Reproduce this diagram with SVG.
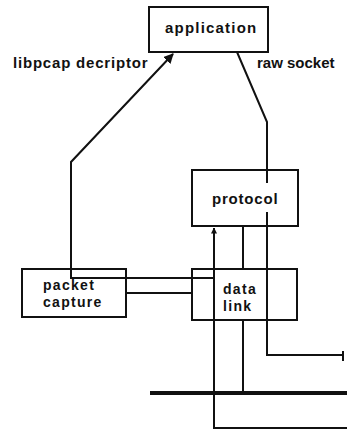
<svg xmlns="http://www.w3.org/2000/svg" width="347" height="430" viewBox="0 0 347 430">
<style>
.box{fill:#fff;stroke:#111;stroke-width:2}
.t{font-family:"Liberation Sans",Arial,sans-serif;font-weight:bold;font-size:15px;fill:#111}
.s{font-size:14px;letter-spacing:1.3px}
.c{fill:none;stroke:#111;stroke-width:2}
</style>
<defs>
<marker id="ah" viewBox="0 0 10 10" refX="9" refY="5" markerWidth="5" markerHeight="5" orient="auto" markerUnits="strokeWidth">
<path d="M0,0 L10,5 L0,10 z" fill="#111"/>
</marker>
<marker id="ahf" viewBox="0 0 12 6" refX="11" refY="3" markerWidth="6" markerHeight="6" orient="auto" markerUnits="userSpaceOnUse">
<path d="M0,-3 L12,3 L0,9 z" fill="#111"/>
</marker>
</defs>
<rect width="347" height="430" fill="#fff"/>
<g id="application">
<rect class="box" x="149" y="7" width="119" height="45"/>
<text class="t" x="165" y="33" style="letter-spacing:1.2px">application</text>
</g>
<g id="protocol">
<rect class="box" x="192" y="170" width="106" height="56"/>
<text class="t" x="212" y="204" style="letter-spacing:0.8px">protocol</text>
</g>
<g id="packet-capture">
<rect class="box" x="22" y="269" width="104" height="48"/>
<text class="t s" x="43" y="290">packet</text>
<text class="t s" x="43" y="307">capture</text>
</g>
<g id="data-link">
<rect class="box" x="192" y="269" width="105" height="51"/>
<text class="t s" x="223" y="294">data</text>
<text class="t s" x="223" y="311">link</text>
</g>
<g id="labels">
<text class="t" x="13" y="68" style="letter-spacing:0.8px">libpcap decriptor</text>
<text class="t" x="257" y="68">raw socket</text>
</g>
<g id="connectors">
<path class="c" d="M214,278 H71 V162 L173,54" marker-end="url(#ah)"/>
<path class="c" d="M237,52 L267,122 V183"/>
<path class="c" d="M267,212 V355 H343"/>
<path class="c" d="M343,351 V361"/>
<path class="c" d="M126,293 H192"/>
<path class="c" d="M243,226 V269"/>
<path class="c" d="M243,320 V393"/>
<path class="c" d="M347,428 H214 V228" marker-end="url(#ahf)"/>
<path fill="none" stroke="#111" stroke-width="4" d="M150,393 H347"/>
</g>
</svg>
